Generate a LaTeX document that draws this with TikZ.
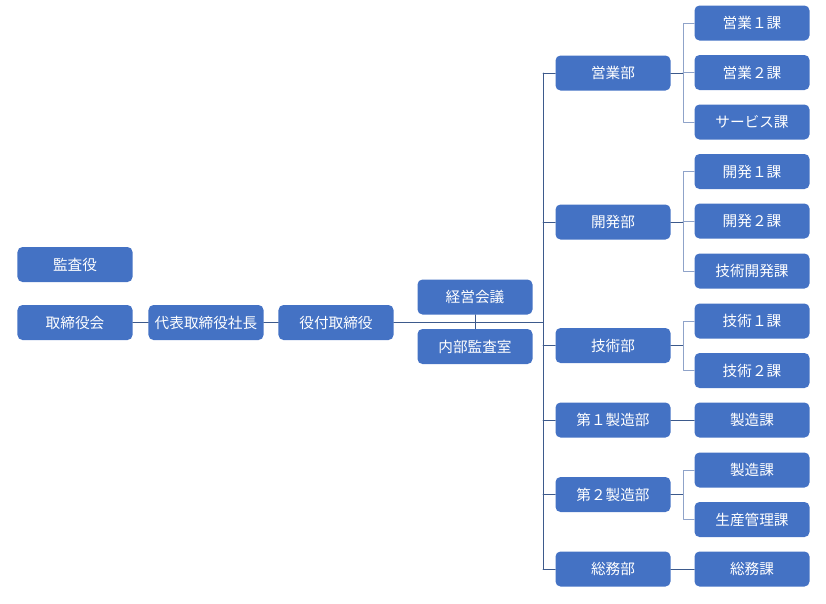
\documentclass[tikz,border=0pt]{standalone}
\usepackage{fontspec}
\setmainfont{Noto Sans CJK JP}
\usetikzlibrary{positioning}
\definecolor{boxblue}{HTML}{4472C4}
\definecolor{linedark}{HTML}{3D5A8C}
\definecolor{linelight}{HTML}{8FA3C9}

\begin{document}
\begin{tikzpicture}[x=0.03cm, y=-0.03cm, line join=round, line cap=round,
    box/.style={fill=boxblue, text=white, rounded corners=0.15cm,
      minimum width=3.45cm, minimum height=1.05cm, inner sep=0pt,
      font=\fontsize{12.5}{15}\selectfont},
    link/.style={draw=linedark, line width=0.8pt},
    sublink/.style={draw=linelight, line width=0.8pt}]
    \useasboundingbox (0,0) rectangle (826,603);

    % 役員
    \node[box] (kansa) at (75,264.5) {監査役};
    \node[box] (torikai) at (75,322.5) {取締役会};
    \node[box] (shacho) at (206,322.5) {代表取締役社長};
    \node[box] (yakutsuki) at (336,322.5) {役付取締役};
    \node[box] (keiei) at (475,297) {経営会議};
    \node[box] (naibu) at (475,346.5) {内部監査室};

    % 部
    \def\bux{613}
    \node[box] (eigyo) at (\bux,73) {営業部};
    \node[box] (kaihatsu) at (\bux,222) {開発部};
    \node[box] (gijutsu) at (\bux,345.5) {技術部};
    \node[box] (seizoA) at (\bux,420) {第１製造部};
    \node[box] (seizoB) at (\bux,494.5) {第２製造部};
    \node[box] (somu) at (\bux,569) {総務部};

    % 課
    \def\kax{752}
    \node[box] (eigyoA) at (\kax,23) {営業１課};
    \node[box] (eigyoB) at (\kax,72.5) {営業２課};
    \node[box] (service) at (\kax,122) {サービス課};
    \node[box] (kaihatsuA) at (\kax,171.5) {開発１課};
    \node[box] (kaihatsuB) at (\kax,221) {開発２課};
    \node[box] (gikai) at (\kax,271) {技術開発課};
    \node[box] (gijutsuA) at (\kax,321) {技術１課};
    \node[box] (gijutsuB) at (\kax,370.5) {技術２課};
    \node[box] (seizokaA) at (\kax,420) {製造課};
    \node[box] (seizokaB) at (\kax,470) {製造課};
    \node[box] (seisan) at (\kax,519.5) {生産管理課};
    \node[box] (somuka) at (\kax,569) {総務課};

    % 幹線
    \coordinate (tTop) at (543,73);
    \coordinate (tBot) at (543,569);
    \coordinate (tMid) at (543,322.5);
    \draw[link] (torikai) -- (shacho);
    \draw[link] (shacho) -- (yakutsuki);
    \draw[link] (yakutsuki) -- (tMid);
    \draw[link] (keiei) -- (naibu);
    \draw[link] (tTop) -- (tBot);
    \foreach \b in {eigyo,kaihatsu,gijutsu,seizoA,seizoB,somu}
        \draw[link] (\b.west) -- (\b.west -| tTop);

    % 部から課へ
    \coordinate (br) at (683,0);
    \foreach \b/\first/\last in {eigyo/eigyoA/service, kaihatsu/kaihatsuA/gikai,
                                 gijutsu/gijutsuA/gijutsuB, seizoB/seizokaB/seisan} {
        \draw[link] (\b.east) -- (\b.east -| br);
        \draw[sublink] (\first.west) -| (\last.west -| br) -- (\last.west);
    }
    \draw[sublink] (eigyoB.west) -- (eigyoB.west -| br);
    \draw[sublink] (kaihatsuB.west) -- (kaihatsuB.west -| br);
    \draw[link] (seizoA) -- (seizokaA);
    \draw[link] (somu) -- (somuka);
\end{tikzpicture}
\end{document}
